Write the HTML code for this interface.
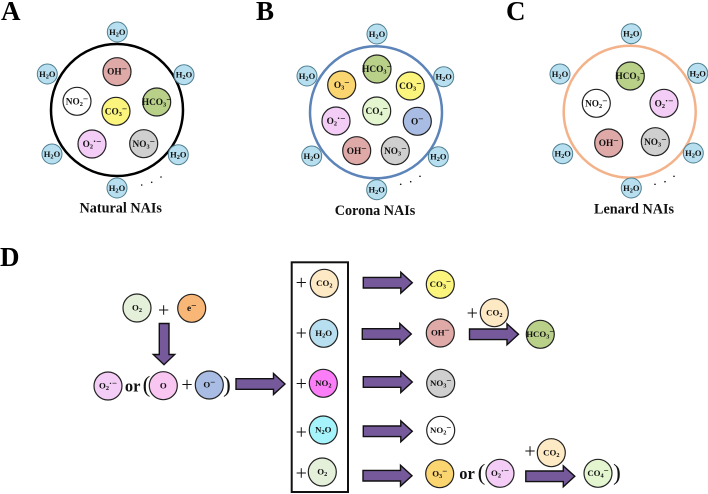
<!DOCTYPE html>
<html><head><meta charset="utf-8"><style>
html,body{margin:0;padding:0;background:#fff}
svg{display:block}
text{font-family:"Liberation Serif",serif;font-weight:bold;fill:#111;text-anchor:middle}
.i{font-size:9.3px}
.w{font-size:8.5px}
.d{font-size:8.8px}
.s{font-size:6.3px}
.p{font-size:20px;font-weight:normal}
.h{font-size:27px;text-anchor:start;fill:#000}
.l{font-size:14.2px}
.or{font-size:16.5px}
.par{font-size:23px;font-weight:normal}
circle{stroke:#222;stroke-width:1.2}
.wa{fill:#b7dfef;stroke:#4f7f90;stroke-width:1}
.big{fill:none;stroke-width:2.5}
.a{fill:#75599a;stroke:#111;stroke-width:1.4}
</style></head><body>
<svg width="708" height="494" viewBox="0 0 708 494" xmlns="http://www.w3.org/2000/svg">
<defs>
<path id="ar" class="a" d="M0-5.3H37.5V-10.5L49 0 37.5 10.5V5.3H0Z"/>
</defs>

<!-- Panel A -->
<text class="h" x="1" y="20">A</text>
<circle class="big" cx="117" cy="110" r="66" stroke="#000" style="stroke:#000"/>
<g>
<circle class="wa" cx="117.3" cy="32" r="10"/><text class="w" x="117.3" y="35">H<tspan class="s" dy="1.5">2</tspan><tspan dy="-1.5">O</tspan></text>
<circle class="wa" cx="47.3" cy="74" r="10"/><text class="w" x="47.3" y="77">H<tspan class="s" dy="1.5">2</tspan><tspan dy="-1.5">O</tspan></text>
<circle class="wa" cx="184" cy="74.7" r="10"/><text class="w" x="184" y="77.7">H<tspan class="s" dy="1.5">2</tspan><tspan dy="-1.5">O</tspan></text>
<circle class="wa" cx="52" cy="154" r="10"/><text class="w" x="52" y="157">H<tspan class="s" dy="1.5">2</tspan><tspan dy="-1.5">O</tspan></text>
<circle class="wa" cx="178.3" cy="154.7" r="10"/><text class="w" x="178.3" y="157.7">H<tspan class="s" dy="1.5">2</tspan><tspan dy="-1.5">O</tspan></text>
<circle class="wa" cx="117" cy="188" r="10"/><text class="w" x="117" y="191">H<tspan class="s" dy="1.5">2</tspan><tspan dy="-1.5">O</tspan></text>
</g>
<circle cx="117" cy="71.7" r="14" fill="#dfa9a8"/><text class="i" x="117" y="74.7">OH<tspan dy="-2.5">−</tspan></text>
<circle cx="77" cy="101.3" r="14" fill="#fff"/><text class="i" x="77" y="104.5">NO<tspan class="s" dy="1.5">2</tspan><tspan dy="-4">−</tspan></text>
<circle cx="116" cy="111.3" r="14" fill="#fbf57d"/><text class="i" x="116" y="114.5">CO<tspan class="s" dy="1.5">3</tspan><tspan dy="-4">−</tspan></text>
<circle cx="156.7" cy="102" r="14" fill="#b8d088"/><text class="i" x="156.7" y="105.2">HCO<tspan class="s" dy="1.5">3</tspan><tspan dy="-4">−</tspan></text>
<circle cx="92" cy="144" r="14" fill="#f3cdf6"/><text class="i" x="92" y="147.2">O<tspan class="s" dy="1.5">2</tspan><tspan dy="-4">·−</tspan></text>
<circle cx="143.7" cy="143.7" r="14" fill="#cfcfcf"/><text class="i" x="143.7" y="146.9">NO<tspan class="s" dy="1.5">3</tspan><tspan dy="-4">−</tspan></text>
<circle cx="141.7" cy="185" r=".8" fill="#111" style="stroke:none"/><circle cx="151.7" cy="182.3" r=".8" fill="#111" style="stroke:none"/><circle cx="161" cy="177" r=".8" fill="#111" style="stroke:none"/>
<text class="l" x="120.7" y="212.5">Natural NAIs</text>

<!-- Panel B -->
<text class="h" x="256" y="20">B</text>
<circle class="big" cx="376" cy="112.3" r="66" style="stroke:#5c84b9"/>
<circle class="wa" cx="377" cy="34" r="10"/><text class="w" x="377" y="37">H<tspan class="s" dy="1.5">2</tspan><tspan dy="-1.5">O</tspan></text>
<circle class="wa" cx="307" cy="76" r="10"/><text class="w" x="307" y="79">H<tspan class="s" dy="1.5">2</tspan><tspan dy="-1.5">O</tspan></text>
<circle class="wa" cx="443.7" cy="76.7" r="10"/><text class="w" x="443.7" y="79.7">H<tspan class="s" dy="1.5">2</tspan><tspan dy="-1.5">O</tspan></text>
<circle class="wa" cx="311.7" cy="156" r="10"/><text class="w" x="311.7" y="159">H<tspan class="s" dy="1.5">2</tspan><tspan dy="-1.5">O</tspan></text>
<circle class="wa" cx="438.3" cy="156.7" r="10"/><text class="w" x="438.3" y="159.7">H<tspan class="s" dy="1.5">2</tspan><tspan dy="-1.5">O</tspan></text>
<circle class="wa" cx="376.7" cy="189.7" r="10"/><text class="w" x="376.7" y="192.7">H<tspan class="s" dy="1.5">2</tspan><tspan dy="-1.5">O</tspan></text>
<circle cx="377" cy="69" r="14" fill="#b8d088"/><text class="i" x="377" y="72.2">HCO<tspan class="s" dy="1.5">3</tspan><tspan dy="-4">−</tspan></text>
<circle cx="341.7" cy="85" r="14" fill="#fbd570"/><text class="i" x="341.7" y="88.2">O<tspan class="s" dy="1.5">3</tspan><tspan dy="-4">−</tspan></text>
<circle cx="410.3" cy="86" r="14" fill="#fbf57d"/><text class="i" x="410.3" y="89.2">CO<tspan class="s" dy="1.5">3</tspan><tspan dy="-4">−</tspan></text>
<circle cx="376.7" cy="111" r="14" fill="#e3f6cf"/><text class="i" x="376.7" y="114.2">CO<tspan class="s" dy="1.5">4</tspan><tspan dy="-4">−</tspan></text>
<circle cx="336" cy="121" r="14" fill="#f3cdf6"/><text class="i" x="336" y="124.2">O<tspan class="s" dy="1.5">2</tspan><tspan dy="-4">·−</tspan></text>
<circle cx="417.3" cy="121.3" r="14" fill="#a9bce4"/><text class="i" x="417.3" y="124.5">O<tspan dy="-2.5">−</tspan></text>
<circle cx="356.7" cy="150.7" r="14" fill="#dfa9a8"/><text class="i" x="356.7" y="153.9">OH<tspan dy="-2.5">−</tspan></text>
<circle cx="395.3" cy="150.7" r="14" fill="#cfcfcf"/><text class="i" x="395.3" y="153.9">NO<tspan class="s" dy="1.5">3</tspan><tspan dy="-4">−</tspan></text>
<circle cx="400.7" cy="184.3" r=".8" fill="#111" style="stroke:none"/><circle cx="410.7" cy="181.7" r=".8" fill="#111" style="stroke:none"/><circle cx="420" cy="176.3" r=".8" fill="#111" style="stroke:none"/>
<text class="l" x="375" y="215">Corona NAIs</text>

<!-- Panel C -->
<text class="h" x="506" y="20">C</text>
<circle class="big" cx="629.7" cy="111.7" r="66" style="stroke:#f3b28a"/>
<circle class="wa" cx="631.3" cy="33.7" r="10"/><text class="w" x="631.3" y="36.7">H<tspan class="s" dy="1.5">2</tspan><tspan dy="-1.5">O</tspan></text>
<circle class="wa" cx="560" cy="74" r="10"/><text class="w" x="560" y="77">H<tspan class="s" dy="1.5">2</tspan><tspan dy="-1.5">O</tspan></text>
<circle class="wa" cx="697.7" cy="73.3" r="10"/><text class="w" x="697.7" y="76.3">H<tspan class="s" dy="1.5">2</tspan><tspan dy="-1.5">O</tspan></text>
<circle class="wa" cx="562.7" cy="153.7" r="10"/><text class="w" x="562.7" y="156.7">H<tspan class="s" dy="1.5">2</tspan><tspan dy="-1.5">O</tspan></text>
<circle class="wa" cx="693.3" cy="153" r="10"/><text class="w" x="693.3" y="156">H<tspan class="s" dy="1.5">2</tspan><tspan dy="-1.5">O</tspan></text>
<circle class="wa" cx="631.3" cy="188" r="10"/><text class="w" x="631.3" y="191">H<tspan class="s" dy="1.5">2</tspan><tspan dy="-1.5">O</tspan></text>
<circle cx="630.3" cy="76" r="14" fill="#b8d088"/><text class="i" x="630.3" y="79.2">HCO<tspan class="s" dy="1.5">3</tspan><tspan dy="-4">−</tspan></text>
<circle cx="596.3" cy="103.3" r="14" fill="#fff"/><text class="i" x="596.3" y="106.5">NO<tspan class="s" dy="1.5">2</tspan><tspan dy="-4">−</tspan></text>
<circle cx="664" cy="103.3" r="14" fill="#f3cdf6"/><text class="i" x="664" y="106.5">O<tspan class="s" dy="1.5">2</tspan><tspan dy="-4">·−</tspan></text>
<circle cx="608.7" cy="143" r="14" fill="#dfa9a8"/><text class="i" x="608.7" y="146.2">OH<tspan dy="-2.5">−</tspan></text>
<circle cx="655.3" cy="141.7" r="14" fill="#cfcfcf"/><text class="i" x="655.3" y="144.9">NO<tspan class="s" dy="1.5">3</tspan><tspan dy="-4">−</tspan></text>
<circle cx="655" cy="184.3" r=".8" fill="#111" style="stroke:none"/><circle cx="665" cy="181.7" r=".8" fill="#111" style="stroke:none"/><circle cx="674" cy="176.3" r=".8" fill="#111" style="stroke:none"/>
<text class="l" x="634" y="213.5">Lenard NAIs</text>

<!-- Panel D left -->
<text class="h" x="0" y="266">D</text>
<circle cx="137" cy="308" r="14" fill="#e5f0da"/><text class="d" x="137" y="310.5">O<tspan class="s" dy="1.5">2</tspan></text>
<text class="p" x="163.7" y="316.5">+</text>
<circle cx="191.7" cy="308.3" r="14" fill="#f8b776"/><text class="i" x="191.7" y="311">e<tspan dy="-2.5">−</tspan></text>
<path class="a" d="M159.3 323.5H169V354.5H174.7L164 364.7 153.3 354.5H159.3Z"/>
<circle cx="108" cy="386" r="14" fill="#f3cdf6"/><text class="d" x="108" y="388.5">O<tspan class="s" dy="1.5">2</tspan><tspan dy="-4">·−</tspan></text>
<text class="or" x="132.7" y="391.5">or</text>
<text class="par" x="146.5" y="392">(</text>
<circle cx="163.3" cy="385.7" r="14" fill="#f8c6f0"/><text class="d" x="163.3" y="388.5">O</text>
<text class="p" x="187" y="391">+</text>
<circle cx="209.3" cy="385" r="14" fill="#a9bce4"/><text class="d" x="209.3" y="387.5">O<tspan dy="-2.5">−</tspan></text>
<text class="par" x="227" y="392">)</text>
<use href="#ar" transform="translate(236,384)"/>

<!-- Box -->
<rect x="291.7" y="262.3" width="56.3" height="229.7" fill="none" stroke="#111" stroke-width="2"/>

<text class="p" x="301.3" y="289">+</text>
<circle cx="324.3" cy="283.3" r="14" fill="#fde9c4"/><text class="d" x="324.3" y="286">CO<tspan class="s" dy="1.5">2</tspan></text>
<use href="#ar" transform="translate(363.3,282.7)"/>
<circle cx="440.3" cy="284.3" r="14" fill="#fbf57d"/><text class="d" x="440.3" y="287">CO<tspan class="s" dy="1.5">3</tspan><tspan dy="-4">−</tspan></text>

<text class="p" x="301.3" y="339.7">+</text>
<circle cx="323.7" cy="333.3" r="14" fill="#b7dfef"/><text class="d" x="323.7" y="336">H<tspan class="s" dy="1.5">2</tspan><tspan dy="-1.5">O</tspan></text>
<use href="#ar" transform="translate(362.3,334)"/>
<circle cx="440.3" cy="333" r="14" fill="#dfa9a8"/><text class="d" x="440.3" y="335.7">OH<tspan dy="-2.5">−</tspan></text>

<text class="p" x="301.3" y="390">+</text>
<circle cx="323.3" cy="383.3" r="14" fill="#fb7df7"/><text class="d" x="323.3" y="386">NO<tspan class="s" dy="1.5">2</tspan></text>
<use href="#ar" transform="translate(363.3,382)"/>
<circle cx="440.7" cy="383.3" r="14" fill="#cfcfcf"/><text class="d" x="440.7" y="386">NO<tspan class="s" dy="1.5">3</tspan><tspan dy="-4">−</tspan></text>

<text class="p" x="301.3" y="438.3">+</text>
<circle cx="323.3" cy="430" r="14" fill="#a6f4fb"/><text class="d" x="323.3" y="432.7">N<tspan class="s" dy="1.5">2</tspan><tspan dy="-1.5">O</tspan></text>
<use href="#ar" transform="translate(363.3,431.3)"/>
<circle cx="440.7" cy="430.3" r="14" fill="#fff"/><text class="d" x="440.7" y="433">NO<tspan class="s" dy="1.5">2</tspan><tspan dy="-4">−</tspan></text>

<text class="p" x="301.3" y="479.3">+</text>
<circle cx="322.3" cy="472" r="14" fill="#e5f0da"/><text class="d" x="322.3" y="474.7">O<tspan class="s" dy="1.5">2</tspan></text>
<use href="#ar" transform="translate(363,475.7)"/>
<circle cx="439.7" cy="473.7" r="14" fill="#fbd570"/><text class="d" x="439.7" y="476.4">O<tspan class="s" dy="1.5">3</tspan><tspan dy="-4">−</tspan></text>

<!-- HCO3 branch -->
<text class="p" x="472.3" y="319.7">+</text>
<circle cx="494.3" cy="312.7" r="14" fill="#fde9c4"/><text class="d" x="494.3" y="315.4">CO<tspan class="s" dy="1.5">2</tspan></text>
<use href="#ar" transform="translate(469.5,334.3)"/>
<circle cx="540.3" cy="334.3" r="14" fill="#b8d088"/><text class="d" x="540.3" y="337">HCO<tspan class="s" dy="1.5">3</tspan><tspan dy="-4">−</tspan></text>

<!-- bottom row -->
<text class="or" x="467" y="479">or</text>
<text class="par" x="481.5" y="480">(</text>
<circle cx="500" cy="473.3" r="14" fill="#f3cdf6"/><text class="d" x="500" y="476">O<tspan class="s" dy="1.5">2</tspan><tspan dy="-4">·−</tspan></text>
<text class="p" x="530" y="457.5">+</text>
<circle cx="551.3" cy="452.7" r="14" fill="#fde9c4"/><text class="d" x="551.3" y="455.4">CO<tspan class="s" dy="1.5">2</tspan></text>
<use href="#ar" transform="translate(525.8,476.3)"/>
<circle cx="598" cy="473.3" r="14" fill="#e3f6cf"/><text class="d" x="598" y="476">CO<tspan class="s" dy="1.5">4</tspan><tspan dy="-4">−</tspan></text>
<text class="par" x="617" y="480">)</text>
</svg>
</body></html>
